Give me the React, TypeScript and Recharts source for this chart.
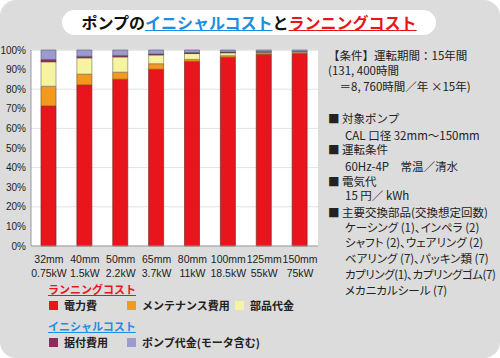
import React from 'react';
import { BarChart, Bar, XAxis, YAxis, CartesianGrid } from 'recharts';

// bore sizes and motor output (x labels)
const sizes = ['32mm', '40mm', '50mm', '65mm', '80mm', '100mm', '125mm', '150mm'];
const powers = ['0.75kW', '1.5kW', '2.2kW', '3.7kW', '11kW', '18.5kW', '55kW', '75kW'];

// share of life-cycle cost, %
const power = [71.5, 82.2, 85.1, 90.2, 94.2, 96.3, 97.8, 98.2];
const maintenance = [10.0, 5.5, 3.6, 2.8, 1.0, 0.8, 0.5, 0.4];
const parts = [12.5, 8.3, 7.8, 4.5, 3.0, 1.5, 0.6, 0.5];
const install = [1.2, 0.8, 0.7, 0.5, 0.5, 0.4, 0.3, 0.2];
const pump = [4.8, 3.2, 2.8, 2.0, 1.3, 1.0, 0.8, 0.7];

const yTicks = [0, 10, 20, 30, 40, 50, 60, 70, 80, 90, 100];

const colors = {
  power: '#e8161c',
  maintenance: '#f39a1e',
  parts: '#f6f4a2',
  install: '#8c2c5c',
  pump: '#9b9bd0',
  blue: '#1a8ee0',
  red: '#e8161c',
  bg: '#dcdcdc',
};

const data = sizes.map((s, i) => ({
  size: s,
  power: power[i],
  maintenance: maintenance[i],
  parts: parts[i],
  install: install[i],
  pump: pump[i],
}));

const font = '"Noto Sans CJK JP", "Noto Sans", sans-serif';
const narrow = '"Liberation Sans Narrow", "Liberation Sans", Arial, sans-serif';

function XTick({ x, y, payload, index }: any) {
  return (
    <g transform={`translate(${x},${y})`}>
      <text textAnchor="middle" fontSize={10.5} fontFamily={narrow} fill="#222">
        <tspan x={0} dy={9}>{payload.value}</tspan>
        <tspan x={0} dy={14}>{powers[index]}</tspan>
      </text>
    </g>
  );
}

// p = proportional kana spacing, as in the original
const conditions = [
  { t: '【条件】運転期間：15年間', y: 56, x: 328, p: false },
  { t: '(131, 400時間', y: 71, x: 328, p: false },
  { t: '　＝8, 760時間／年 ×15年)', y: 87, x: 328, p: false },
  { t: '■ 対象ポンプ', y: 119, x: 328, p: false },
  { t: 'CAL 口径 32mm〜150mm', y: 136, x: 345, p: false },
  { t: '■ 運転条件', y: 150, x: 328, p: false },
  { t: '60Hz-4P　常温／清水', y: 167, x: 345, p: false },
  { t: '■ 電気代', y: 182, x: 328, p: false },
  { t: '15 円／ kWh', y: 196, x: 345, p: false },
  { t: '■ 主要交換部品(交換想定回数)', y: 213, x: 328, p: false },
  { t: 'ケーシング (1)、インペラ (2)', y: 228, x: 345, p: true },
  { t: 'シャフト (2)、ウェアリング (2)', y: 243, x: 345, p: true },
  { t: 'ベアリング (7)、パッキン類 (7)', y: 259, x: 345, p: true },
  { t: 'カプリング(1)､カプリングゴム(7)', y: 275, x: 345, p: true },
  { t: 'メカニカルシール (7)', y: 291, x: 345, p: true },
];

function Swatch({ color, label, left, top }: { color: string; label: string; left: number; top: number }) {
  return (
    <div style={{ position: 'absolute', left, top, display: 'flex', alignItems: 'center', fontSize: 11, fontWeight: 700, color: '#222', whiteSpace: 'nowrap', lineHeight: '13px' }}>
      <span style={{ width: 9, height: 9, background: color, display: 'inline-block', marginRight: 6 }} />
      {label}
    </div>
  );
}

export default function App() {
  return (
    <div style={{ position: 'absolute', left: 0, top: 0, width: 500, height: 358, background: '#fff', fontFamily: font }}>
      <div style={{ position: 'absolute', left: 0, top: 0, width: 500, height: 358, background: colors.bg, borderRadius: 16 }}>
        <div
          style={{
            position: 'absolute', left: 62, top: 10, width: 374, height: 25, background: '#fff', borderRadius: 13,
            textAlign: 'center', fontSize: 16, fontWeight: 700, lineHeight: '25px', whiteSpace: 'nowrap',
          }}
        >
          <span style={{ color: '#111' }}>ポンプの</span>
          <span style={{ color: colors.blue, textDecoration: 'underline' }}>イニシャルコスト</span>
          <span style={{ color: '#111' }}>と</span>
          <span style={{ color: colors.red, textDecoration: 'underline' }}>ランニングコスト</span>
        </div>

        <div style={{ position: 'absolute', left: 0, top: 0 }}>
          <BarChart width={500} height={358} data={data} margin={{ top: 50, right: 182, left: 0, bottom: 82 }} barSize={15}>
            <CartesianGrid vertical={false} stroke="#e2e2e2" fill="#fff" />
            <XAxis dataKey="size" tick={<XTick />} tickLine={false} axisLine={{ stroke: '#999' }} interval={0} height={30} />
            <YAxis
              width={31}
              domain={[0, 100]}
              ticks={yTicks}
              tickFormatter={(v) => `${v}%`}
              tickLine={false}
              tickSize={0}
              axisLine={{ stroke: '#999' }}
              tick={{ fontSize: 10, fill: '#222', fontFamily: narrow }}
              tickMargin={5}
            />
            <Bar dataKey="power" stackId="a" fill={colors.power} stroke="#7a2a22" strokeWidth={0.7} isAnimationActive={false} />
            <Bar dataKey="maintenance" stackId="a" fill={colors.maintenance} stroke="#8a5a22" strokeWidth={0.7} isAnimationActive={false} />
            <Bar dataKey="parts" stackId="a" fill={colors.parts} stroke="#8a8660" strokeWidth={0.7} isAnimationActive={false} />
            <Bar dataKey="install" stackId="a" fill={colors.install} stroke="#5a2a40" strokeWidth={0.7} isAnimationActive={false} />
            <Bar dataKey="pump" stackId="a" fill={colors.pump} stroke="#666680" strokeWidth={0.7} isAnimationActive={false} />
          </BarChart>
        </div>

        <div style={{ position: 'absolute', left: 48, top: 282, fontSize: 11, fontWeight: 700, color: colors.red, textDecoration: 'underline', lineHeight: '14px' }}>ランニングコスト</div>
        <Swatch color={colors.power} label="電力費" left={49} top={299} />
        <Swatch color={colors.maintenance} label="メンテナンス費用" left={127} top={299} />
        <Swatch color={colors.parts} label="部品代金" left={235} top={299} />
        <div style={{ position: 'absolute', left: 48, top: 319, fontSize: 11, fontWeight: 700, color: colors.blue, textDecoration: 'underline', lineHeight: '14px' }}>イニシャルコスト</div>
        <Swatch color={colors.install} label="据付費用" left={49} top={336} />
        <Swatch color={colors.pump} label="ポンプ代金(モータ含む)" left={127} top={336} />

        {conditions.map((c) => (
          <div
            key={c.t}
            style={{
              position: 'absolute', left: c.x, top: c.y - 7, fontSize: 11.5, color: '#222', whiteSpace: 'nowrap',
              lineHeight: '13px', fontFeatureSettings: c.p ? '"palt"' : 'normal',
              letterSpacing: c.t.startsWith('カプリング') ? -0.4 : 0,
            }}
          >
            {c.t}
          </div>
        ))}
      </div>
    </div>
  );
}
